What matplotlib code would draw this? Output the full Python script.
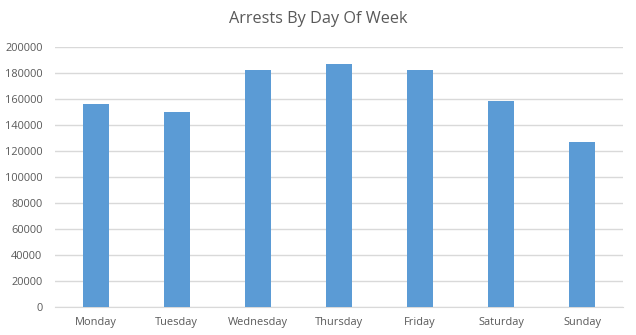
import matplotlib
matplotlib.use("Agg")
import matplotlib.pyplot as plt

days = ["Monday", "Tuesday", "Wednesday", "Thursday", "Friday", "Saturday", "Sunday"]
arrests = [156400, 150200, 182500, 187200, 182500, 158700, 127200]
y_ticks = [0, 20000, 40000, 60000, 80000, 100000, 120000, 140000, 160000, 180000, 200000]

plt.rcParams["font.family"] = ["Open Sans", "DejaVu Sans"]

fig = plt.figure(figsize=(6.36, 3.35), dpi=100)
ax = fig.add_axes([55 / 636, (335 - 307.3) / 335, (623 - 55) / 636, 260 / 335])

x = range(len(days))
ax.bar(x, arrests, width=0.32, color="#5B9BD5", zorder=3)

ax.set_xlim(-0.5, len(days) - 0.5)
ax.set_ylim(0, 200000)
ax.set_yticks(y_ticks)
ax.set_yticklabels([str(v) for v in y_ticks])
ax.set_xticks(list(x))
ax.set_xticklabels(days)

ax.grid(axis="y", color="#D9D9D9", linewidth=1, zorder=0)
for side in ["top", "right", "left"]:
    ax.spines[side].set_visible(False)
ax.spines["bottom"].set_color("#D9D9D9")
ax.tick_params(axis="both", length=0, labelsize=7.9, colors="#595959")
ax.tick_params(axis="x", pad=7)
ax.tick_params(axis="y", pad=9)

fig.text(0.5, 1 - 19 / 335, "Arrests By Day Of Week", ha="center", va="center",
         fontsize=11.7, color="#595959")

fig.savefig("out.png", dpi=100)
